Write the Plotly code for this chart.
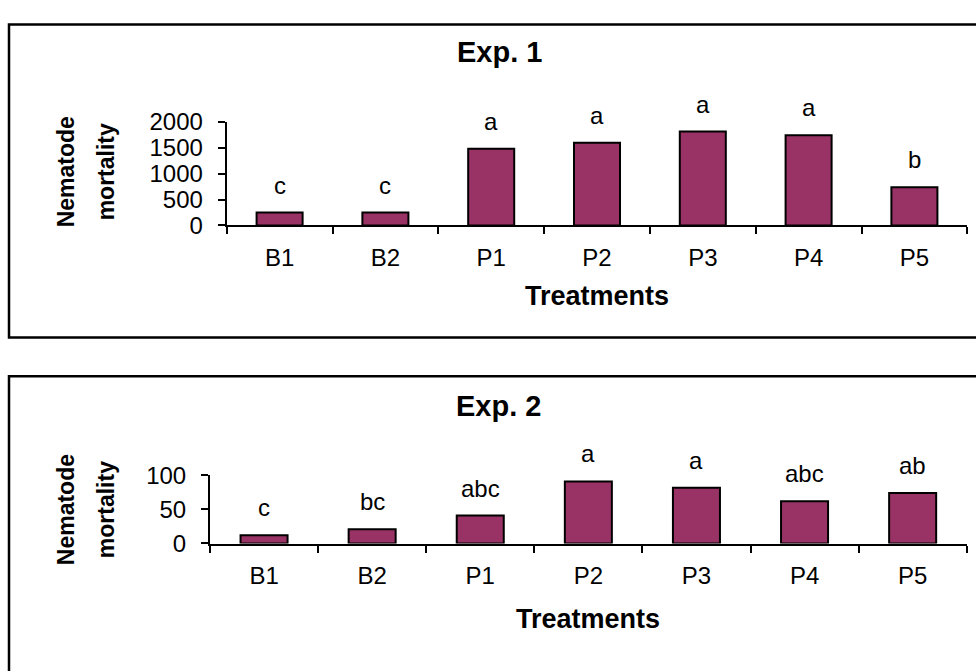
import plotly.graph_objects as go

# Treatments and nematode mortality for the two experiments
treatments = ["B1", "B2", "P1", "P2", "P3", "P4", "P5"]
exp1_mortality = [250, 250, 1480, 1600, 1815, 1745, 740]
exp1_letters = ["c", "c", "a", "a", "a", "a", "b"]
exp2_mortality = [12, 21, 41, 91, 82, 62, 74]
exp2_letters = ["c", "bc", "abc", "a", "a", "abc", "ab"]
exp1_ticks = [0, 500, 1000, 1500, 2000]
exp2_ticks = [0, 50, 100]

W, H = 976, 671
FONT = "Liberation Sans, Arial, sans-serif"
BAR_COLOR = "#993366"


def px_x(v):
    return v / W


def px_y(v):
    return 1 - v / H


fig = go.Figure()

fig.add_trace(go.Bar(
    x=treatments, y=exp1_mortality, xaxis="x", yaxis="y",
    marker=dict(color=BAR_COLOR, line=dict(color="black", width=2)),
    showlegend=False, hoverinfo="x+y",
))
fig.add_trace(go.Bar(
    x=treatments, y=exp2_mortality, xaxis="x2", yaxis="y2",
    marker=dict(color=BAR_COLOR, line=dict(color="black", width=2)),
    showlegend=False, hoverinfo="x+y",
))

x_common = dict(
    type="category", range=[-0.5, 6.5], showgrid=False, zeroline=False,
    showline=True, linecolor="black", linewidth=2,
    ticks="outside", ticklen=7, tickwidth=2, tickcolor="black",
    tickson="boundaries", ticklabelstandoff=10,
    tickfont=dict(family=FONT, size=24, color="black"),
    fixedrange=True,
)
y_common = dict(
    showgrid=False, zeroline=False, showline=True, linecolor="black",
    linewidth=2, ticks="outside", ticklen=7, tickwidth=2, tickcolor="black",
    ticklabelstandoff=10,
    tickfont=dict(family=FONT, size=24, color="black"),
    fixedrange=True,
)

fig.update_layout(
    width=W, height=H, autosize=False,
    margin=dict(l=0, r=0, t=0, b=0),
    paper_bgcolor="white", plot_bgcolor="white",
    bargap=0.565,
    xaxis=dict(x_common, domain=[px_x(226.7), px_x(967.3)], anchor="y"),
    yaxis=dict(y_common, domain=[px_y(220.3), px_y(112.5)], anchor="x",
               range=[0, 2000], tickvals=exp1_ticks),
    xaxis2=dict(x_common, domain=[px_x(210), px_x(966.7)], anchor="y2"),
    yaxis2=dict(y_common, domain=[px_y(551.7), px_y(480.7)], anchor="x2",
                range=[0, 100], tickvals=exp2_ticks),
)

# Panel frames
fig.add_shape(type="rect", xref="paper", yref="paper",
              x0=px_x(9), x1=px_x(1000), y0=px_y(337), y1=px_y(11),
              line=dict(color="black", width=2.5), fillcolor="rgba(0,0,0,0)")
fig.add_shape(type="rect", xref="paper", yref="paper",
              x0=px_x(9), x1=px_x(1000), y0=px_y(700), y1=px_y(377.5),
              line=dict(color="black", width=2.5), fillcolor="rgba(0,0,0,0)")

annotations = []

# Panel titles
for text, cx, cy in [("Exp. 1", 500, 40), ("Exp. 2", 498, 408)]:
    annotations.append(dict(
        text=f"<b>{text}</b>", x=px_x(cx), y=px_y(cy), xref="paper", yref="paper",
        xanchor="center", yanchor="middle", showarrow=False,
        font=dict(family=FONT, size=29, color="black")))

# x-axis titles
for cx, cy in [(597, 294), (588, 630)]:
    annotations.append(dict(
        text="<b>Treatments</b>", x=px_x(cx), y=px_y(cy), xref="paper", yref="paper",
        xanchor="center", yanchor="middle", showarrow=False,
        font=dict(family=FONT, size=27, color="black")))

# y-axis titles, two rotated lines each
for cy in (165, 517):
    for word, cx in [("Nematode", 66), ("mortality", 106)]:
        annotations.append(dict(
            text=f"<b>{word}</b>", x=px_x(cx), y=px_y(cy),
            xref="paper", yref="paper", xanchor="center", yanchor="middle",
            textangle=-90, showarrow=False,
            font=dict(family=FONT, size=23, color="black")))

# Significance letters above the bars
for xa, ya, vals, letters in [("x", "y", exp1_mortality, exp1_letters),
                              ("x2", "y2", exp2_mortality, exp2_letters)]:
    for cat, v, lab in zip(treatments, vals, letters):
        annotations.append(dict(
            text=lab, x=cat, y=v, xref=xa, yref=ya, xanchor="center",
            yanchor="bottom", yshift=12, showarrow=False,
            font=dict(family=FONT, size=24, color="black")))

fig.update_layout(annotations=annotations)

fig.write_html("out.html")
